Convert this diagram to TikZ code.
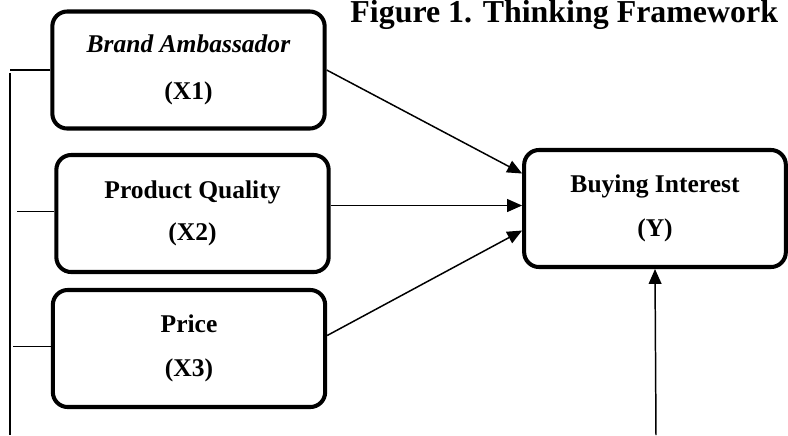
\documentclass[tikz,border=0pt]{standalone}
\usepackage{fontspec}
\setmainfont{Liberation Serif}
\usetikzlibrary{arrows.meta,calc}

\tikzset{
  varbox/.style={draw, line width=1.9pt, rounded corners=7pt, align=center,
    minimum width=128pt, minimum height=55pt, font=\fontsize{12}{14}\selectfont\bfseries},
  link/.style={line width=0.7pt},
  arr/.style={link, -{Triangle[length=7pt,width=6pt]}}
}

\begin{document}
\begin{tikzpicture}[x=0.47pt,y=-0.47pt]
  \useasboundingbox (0,0) rectangle (788,435);

  % Title
  \node[anchor=base west, inner sep=0pt, font=\fontsize{15}{18}\selectfont\bfseries] (title) at (350,22) {Figure 1. Thinking Framework};

  % Boxes
	\node[varbox] (x1) at (188.5,70) {\textit{Brand Ambassador}\\[8pt](X1)};
	\node[varbox] (x2) at (192.5,213.5) {Product Quality\\[6pt](X2)};
	\node[varbox] (x3) at (189,348.5) {Price\\[7pt](X3)};
	\node[varbox, minimum width=123pt] (y) at (655,208.5) {Buying Interest\\[7pt](Y)};

  % Left line
  \coordinate (bustop) at (10,73);
  \coordinate (busbot) at (10,435);
  \draw[link] (bustop) -- (busbot);
  \draw[link] (x1.west) -- ++(-40,0);
  \draw[link] ($(x2.west)+(0,-2)$) -- ++(-37,0);
  \draw[link] ($(x3.west)+(0,-2)$) -- ++(-38,0);

  % Arrows
  \draw[arr] (x1.east) -- ($(y.west)+(0,-35)$);
  \draw[arr] ($(x2.east)+(0,-8)$) -- ($(y.west)+(0,-3)$);
  \draw[arr] ($(x3.east)+(0,-13)$) -- ($(y.west)+(0,22)$);
  \coordinate (ybot) at (656,435);
  \draw[arr] (ybot) -- (y.south);
\end{tikzpicture}
\end{document}
